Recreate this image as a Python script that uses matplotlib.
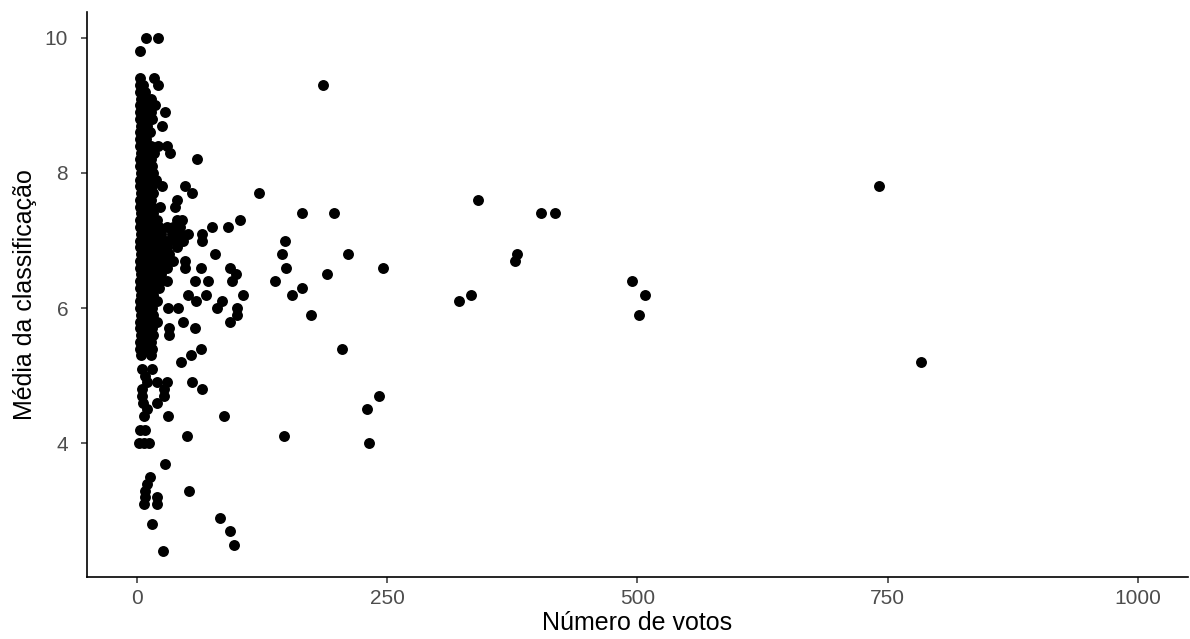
import numpy as np
import matplotlib.pyplot as plt

plt.rcParams['font.family'] = ['Liberation Sans', 'DejaVu Sans']

# numero de votos e media de classificacao de cada filme (uma linha por nota)
votos = [9, 21,
         3,
         3, 17,
         3, 6, 21, 186,
         3, 8,
         4, 9, 14,
         3, 8, 13, 18,
         3, 8, 14, 28,
         3, 9, 15,
         4, 10, 25,
         3, 8, 13,
         3, 9,
         3, 8, 14, 21, 30,
         4, 10, 17, 33,
         3, 8, 14, 60,
         3, 9, 15,
         4, 10, 16,
         3, 8, 14, 19,
         3, 9, 15, 25, 48, 741,
         4, 10, 16, 55, 122,
         3, 8, 14, 40, 341,
         3, 9, 15, 23, 38,
         4, 10, 16, 165, 197, 404, 418,
         3, 8, 14, 20, 40, 45, 103,
         3, 9, 15, 22, 30, 36, 43, 75, 91,
         4, 10, 16, 24, 35, 43, 51, 65,
         3, 8, 14, 20, 28, 31, 38, 46, 65, 148,
         3, 9, 15, 22, 30, 40,
         4, 10, 16, 24, 32, 78, 145, 211, 380,
         3, 8, 14, 20, 28, 36, 48, 378,
         3, 9, 15, 22, 30, 48, 64, 93, 149, 246,
         4, 10, 16, 24, 99, 190,
         3, 8, 14, 23, 30, 58, 71, 95, 138, 495,
         3, 9, 15, 22, 165,
         4, 10, 16, 51, 69, 106, 155, 334, 508,
         3, 8, 14, 20, 59, 85, 322,
         3, 9, 15, 31, 41, 80, 100,
         4, 10, 16, 100, 174, 502,
         3, 8, 14, 20, 46, 93,
         3, 9, 15, 32, 58,
         4, 10, 16, 32,
         3, 8, 14,
         3, 9, 15, 64, 205,
         4, 14, 54,
         44, 783,
         5, 15,
         8,
         10, 20, 30, 55,
         5, 27, 65,
         5, 27, 242,
         6, 20,
         10, 230,
         7, 31, 87,
         3, 8,
         50, 147,
         2, 7, 12, 232,
         28,
         13,
         10,
         8, 52,
         8, 20,
         7, 20,
         83,
         15,
         93,
         97,
         26]

media = [10.0] * 2 + [9.8] * 1 + [9.4] * 2 + [9.3] * 4 + [9.2] * 2 + \
        [9.1] * 3 + [9.0] * 4 + [8.9] * 4 + [8.8] * 3 + [8.7] * 3 + \
        [8.6] * 3 + [8.5] * 2 + [8.4] * 5 + [8.3] * 4 + [8.2] * 4 + \
        [8.1] * 3 + [8.0] * 3 + [7.9] * 4 + [7.8] * 6 + [7.7] * 5 + \
        [7.6] * 5 + [7.5] * 5 + [7.4] * 7 + [7.3] * 7 + [7.2] * 9 + \
        [7.1] * 8 + [7.0] * 10 + [6.9] * 6 + [6.8] * 9 + [6.7] * 8 + \
        [6.6] * 10 + [6.5] * 6 + [6.4] * 10 + [6.3] * 5 + [6.2] * 9 + \
        [6.1] * 7 + [6.0] * 7 + [5.9] * 6 + [5.8] * 6 + [5.7] * 5 + \
        [5.6] * 4 + [5.5] * 3 + [5.4] * 5 + [5.3] * 3 + [5.2] * 2 + \
        [5.1] * 2 + [5.0] * 1 + [4.9] * 4 + [4.8] * 3 + [4.7] * 3 + \
        [4.6] * 2 + [4.5] * 2 + [4.4] * 3 + [4.2] * 2 + [4.1] * 2 + \
        [4.0] * 4 + [3.7] + [3.5] + [3.4] + [3.3] * 2 + [3.2] * 2 + \
        [3.1] * 2 + [2.9] + [2.8] + [2.7] + [2.5] + [2.4]

xticks = [0, 250, 500, 750, 1000]
yticks = [4, 6, 8, 10]

votos = np.array(votos)
media = np.array(media)

fig = plt.figure(figsize=(11.9, 6.39), dpi=100)
ax = fig.add_axes([0.0731, 0.097, 0.925, 0.884])

ax.scatter(votos, media, s=62, color='black', linewidths=0, zorder=3)

ax.set_xlim(-50, 1050)
ax.set_ylim(2.02, 10.38)
ax.set_xticks(xticks)
ax.set_yticks(yticks)

# estilo classico: so os eixos esquerdo e inferior
for lado in ['top', 'right']:
    ax.spines[lado].set_visible(False)
for lado in ['left', 'bottom']:
    ax.spines[lado].set_linewidth(1.2)
    ax.spines[lado].set_color('black')
ax.tick_params(axis='both', length=4.5, width=1.1, color='#333333',
               labelcolor='#4D4D4D', labelsize=15, pad=4)
ax.tick_params(axis='y', pad=9)

ax.set_xlabel('Número de votos', fontsize=18, color='black', labelpad=2)
ax.set_ylabel('Média da classificação', fontsize=18, color='black', labelpad=6)

fig.savefig('out.png', dpi=100)
